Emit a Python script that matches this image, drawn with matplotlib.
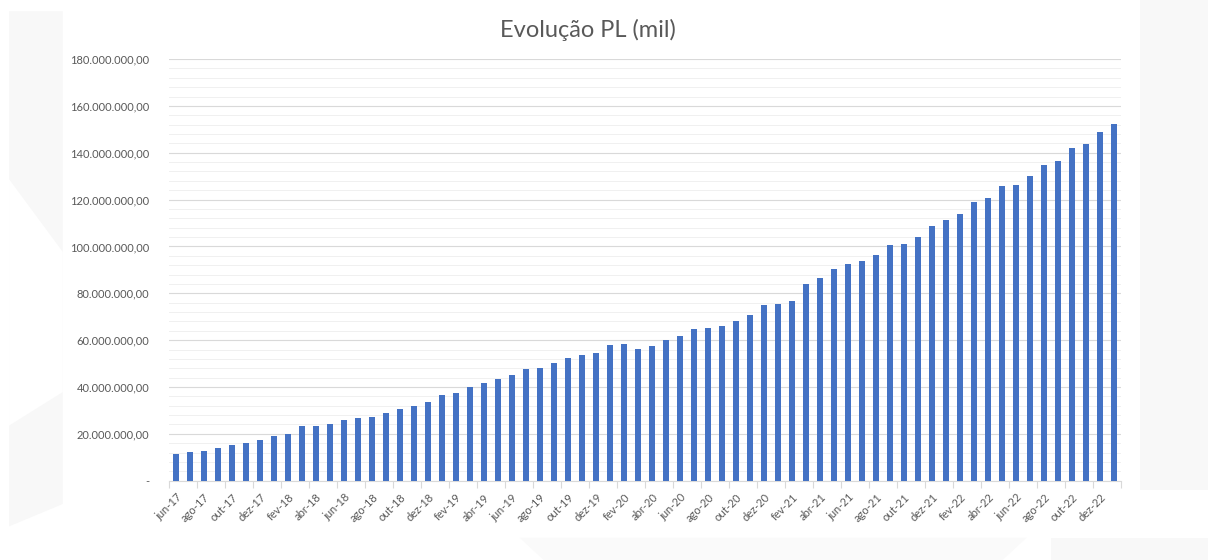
import numpy as np
import matplotlib.pyplot as plt
from matplotlib.ticker import FuncFormatter, MultipleLocator
from matplotlib.patches import Polygon, Rectangle

# monthly categories jun-17 .. jan-23
meses = ['jan', 'fev', 'mar', 'abr', 'mai', 'jun', 'jul', 'ago', 'set', 'out', 'nov', 'dez']
categorias = []
for ano in range(17, 24):
    for i, m in enumerate(meses):
        if (ano == 17 and i < 5) or (ano == 23 and i > 0):
            continue
        categorias.append(m + '-' + str(ano))

# PL values (millions)
pl_milhoes = [
    11.3, 12.4, 12.8, 13.8, 15.1, 16.2, 17.5, 19.1, 19.8, 23.5,
    23.5, 24.1, 25.8, 26.9, 27.3, 28.8, 30.7, 31.8, 33.6, 36.5,
    37.3, 40.0, 41.8, 43.4, 45.0, 47.5, 48.0, 50.2, 52.5, 53.8,
    54.6, 57.8, 58.2, 56.2, 57.5, 60.1, 61.8, 64.8, 65.3, 65.9,
    68.0, 70.7, 74.9, 75.6, 76.7, 83.8, 86.7, 90.2, 92.5, 93.9,
    96.2, 100.5, 101.2, 104.2, 108.9, 111.4, 113.9, 118.8, 120.8, 125.8,
    126.4, 130.2, 134.6, 136.6, 142.0, 143.9, 148.9, 152.4,
]
pl = np.array(pl_milhoes) * 1e6

cinza = '#595959'
plt.rcParams['font.family'] = ['Lato', 'DejaVu Sans']

fig = plt.figure(figsize=(12.08, 5.6), dpi=100)
fig.patch.set_facecolor('white')

# faint slide background shapes
fundo = '#f8f8f8'
fig.patches.append(Rectangle((0.944, 0.125), 0.056, 0.875, transform=fig.transFigure,
                             facecolor=fundo, edgecolor='none', zorder=0))
fig.patches.append(Rectangle((0.87, 0.0), 0.13, 0.04, transform=fig.transFigure,
                             facecolor=fundo, edgecolor='none', zorder=0))
fig.patches.append(Polygon([(0.43, 0.04), (0.85, 0.04), (0.83, 0.0), (0.45, 0.0)],
                           closed=True, transform=fig.transFigure,
                           facecolor='#fafafa', edgecolor='none', zorder=0))
fig.patches.append(Polygon([(0.0075, 0.98), (0.052, 0.98), (0.052, 0.10), (0.0075, 0.06)],
                           closed=True, transform=fig.transFigure,
                           facecolor=fundo, edgecolor='none', zorder=0))
fig.patches.append(Polygon([(0.0075, 0.68), (0.052, 0.55), (0.052, 0.30), (0.0075, 0.24)],
                           closed=True, transform=fig.transFigure,
                           facecolor='white', edgecolor='none', zorder=0))

ax = fig.add_axes([0.1399, 0.1416, 0.7881, 0.753])
ax.set_zorder(2)
ax.patch.set_alpha(0)

x = np.arange(len(categorias))
ax.bar(x, pl, width=0.38, color='#4472C4', zorder=3)

ax.set_xlim(-0.5, len(categorias) - 0.5)
ax.set_ylim(0, 180e6)

def fmt_br(v, pos):
    if v == 0:
        return '-'
    s = '{:,.2f}'.format(v)
    return s.replace(',', 'X').replace('.', ',').replace('X', '.')

ax.yaxis.set_major_locator(MultipleLocator(20e6))
ax.yaxis.set_minor_locator(MultipleLocator(4e6))
ax.yaxis.set_major_formatter(FuncFormatter(fmt_br))
ax.grid(axis='y', which='major', color='#d9d9d9', linewidth=0.8, zorder=0)
ax.grid(axis='y', which='minor', color='#f0f0f0', linewidth=0.7, zorder=0)
ax.tick_params(axis='y', which='both', length=0, labelsize=8, labelcolor=cinza, pad=14)

ax.set_xticks(x[::2])
ax.set_xticklabels(categorias[::2], rotation=45, ha='right', rotation_mode='anchor',
                   fontsize=8, color=cinza)
ax.set_xticks(np.arange(-0.5, len(categorias), 2), minor=True)
ax.tick_params(axis='x', which='major', length=0, pad=8)
ax.tick_params(axis='x', which='minor', length=5, color='#d9d9d9', width=0.8)

for s in ['top', 'right', 'left']:
    ax.spines[s].set_visible(False)
ax.spines['bottom'].set_color('#d9d9d9')
ax.spines['bottom'].set_linewidth(0.8)

fig.text(0.487, 0.947, 'Evolução PL (mil)', ha='center', va='center',
         fontsize=17, color=cinza)

fig.savefig('out.png', dpi=100)
